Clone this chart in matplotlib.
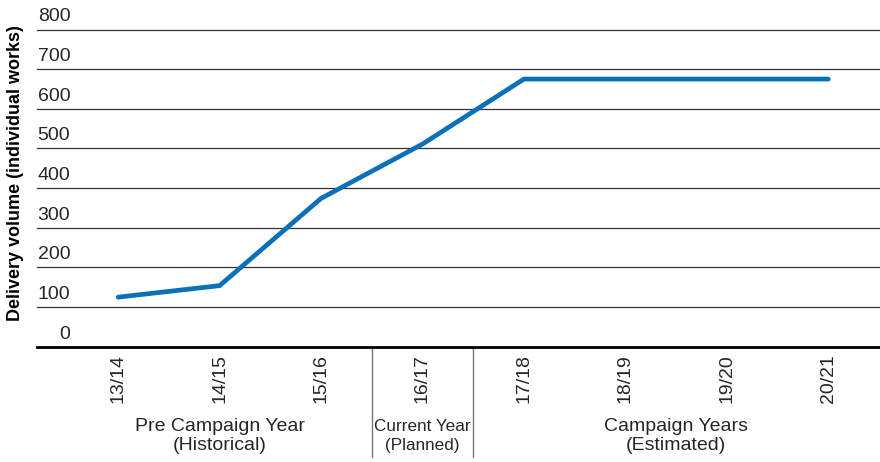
import matplotlib.pyplot as plt
from matplotlib import transforms

plt.rcParams['font.family'] = ['Liberation Sans', 'DejaVu Sans']

# delivery volumes per season
seasons = ['13/14', '14/15', '15/16', '16/17', '17/18', '18/19', '19/20', '20/21']
volumes = [125, 154, 374, 511, 675, 675, 675, 675]
y_ticks = [0, 100, 200, 300, 400, 500, 600, 700, 800]

# season groups: (first index, last index, line 1, line 2)
groups = [
    (0, 2, 'Pre Campaign Year', '(Historical)'),
    (3, 3, 'Current Year', '(Planned)'),
    (4, 7, 'Campaign Years', '(Estimated)'),
]

W, H = 880, 462
fig = plt.figure(figsize=(W / 100, H / 100), dpi=100)
ax_left, ax_right, ax_top, ax_bot = 37, 880, 29.5, 346.7
ax = fig.add_axes([ax_left / W, (H - ax_bot) / H,
                   (ax_right - ax_left) / W, (ax_bot - ax_top) / H])

x = list(range(len(seasons)))
ax.plot(x, volumes, color='#0a70b8', lw=3.4, solid_capstyle='round',
        solid_joinstyle='miter', zorder=3)

ax.set_xlim(-0.8, 7.51)
ax.set_ylim(0, 800)

txt_color = '#262626'
for v in y_ticks:
    if v > 0:
        ax.axhline(v, color='#333333', lw=0.9, clip_on=False, zorder=1)
    ax.annotate(str(v), xy=(0, v), xycoords=('axes fraction', 'data'),
                xytext=(24, 5.8), textcoords='offset points',
                ha='right', va='baseline', fontsize=14, color=txt_color)

for s in ['top', 'right', 'left']:
    ax.spines[s].set_visible(False)
ax.spines['bottom'].set_linewidth(2.0)
ax.spines['bottom'].set_color('black')

ax.set_yticks([])
ax.set_xticks(x)
ax.set_xticklabels(seasons, rotation=90, fontsize=14, color=txt_color)
ax.tick_params(axis='x', length=0, pad=5.5)

ax.text(-21 / (ax_right - ax_left), 0.548,
        'Delivery volume (individual works)', transform=ax.transAxes,
        rotation=90, ha='center', va='center', fontsize=13,
        fontweight='bold', color='black')

# group dividers and labels below the axis
trans = transforms.blended_transform_factory(ax.transData, ax.transAxes)
h = ax_bot - ax_top
for i0, i1, l1, l2 in groups:
    if i0 > 0:
        ax.plot([i0 - 0.5, i0 - 0.5], [0, -(456.7 - ax_bot) / h],
                transform=trans, color='#777777', lw=1.0, clip_on=False)
    cx = (i0 + i1) / 2
    fs = 12.3 if i0 == i1 else 14
    ax.text(cx, -(426.7 - ax_bot) / h, l1, transform=trans, ha='center',
            va='center', fontsize=fs, color=txt_color)
    ax.text(cx, -(445.5 - ax_bot) / h, l2, transform=trans, ha='center',
            va='center', fontsize=fs, color=txt_color)

fig.savefig('out.png', dpi=100)
